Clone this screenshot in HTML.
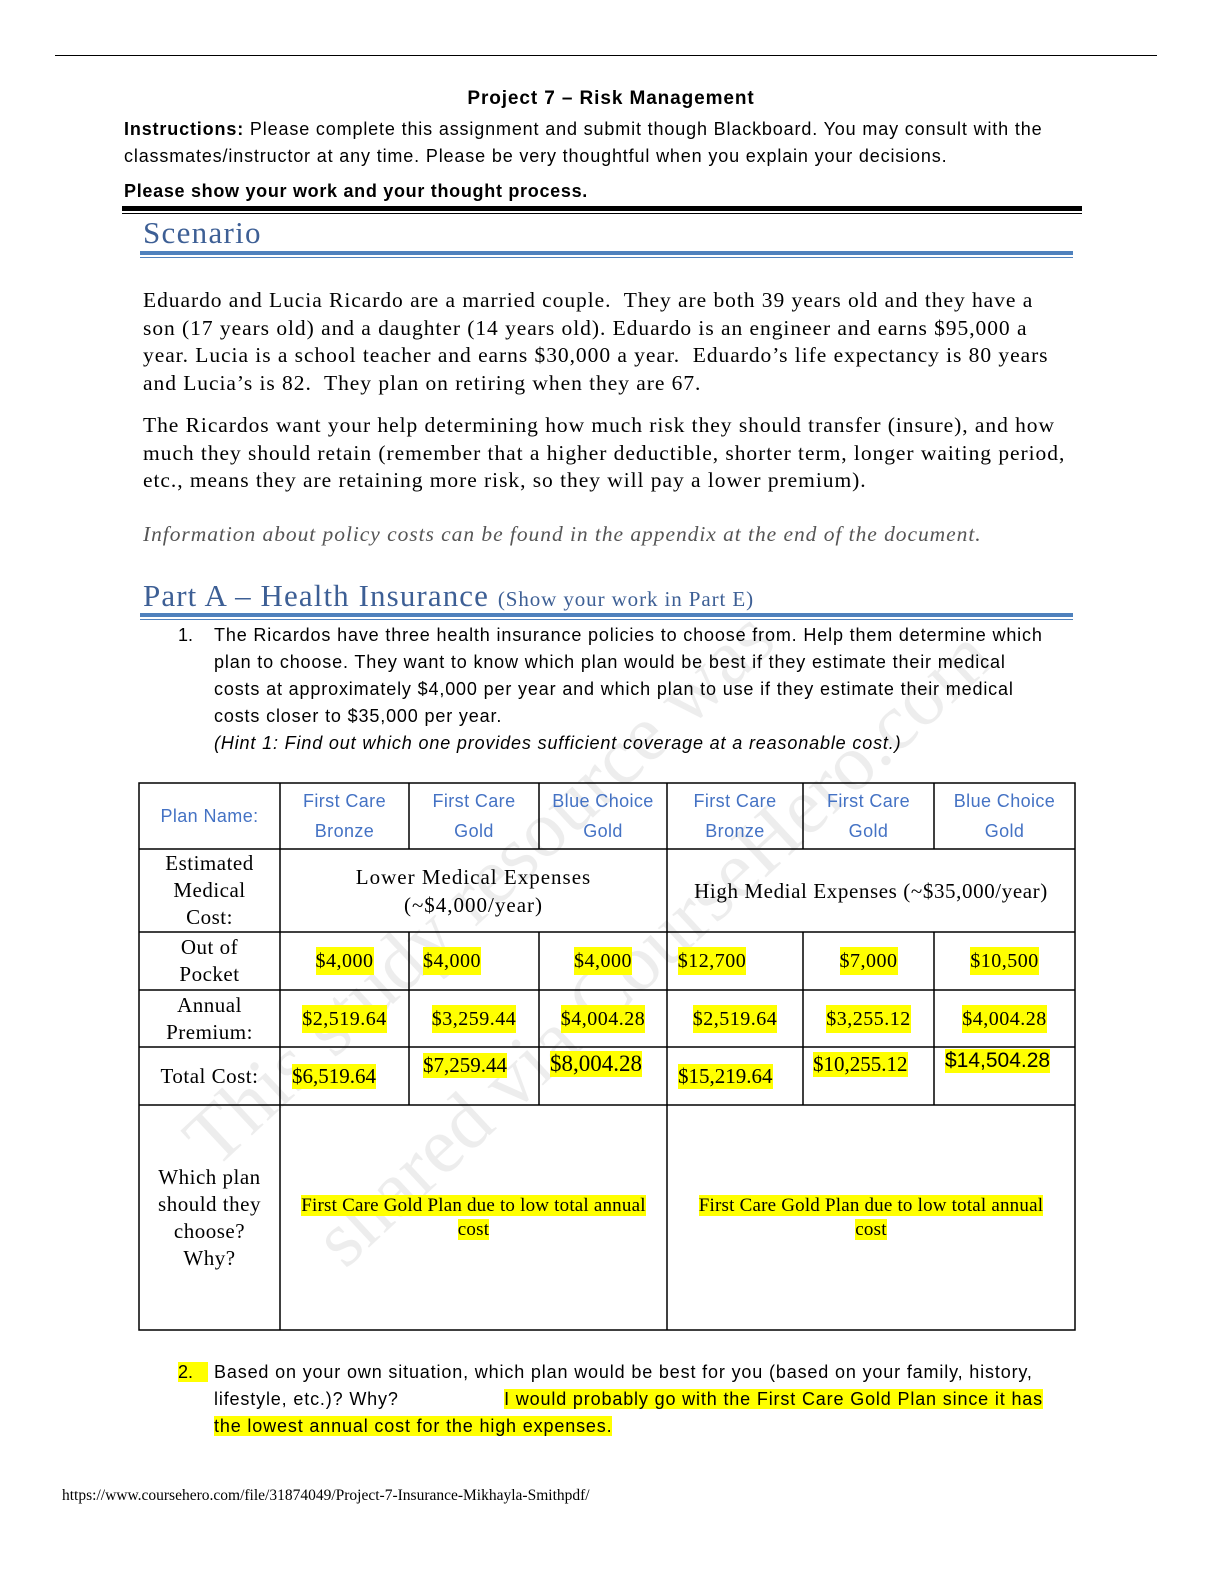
<!DOCTYPE html>
<html><head><meta charset="utf-8"><style>
html,body{margin:0;padding:0;width:1224px;height:1584px;overflow:hidden}
body{background:#fff;position:relative}
.a{position:absolute;white-space:nowrap}
.s{font-family:"Liberation Sans",sans-serif}
.r{font-family:"Liberation Serif",serif}
.hl{background:#ffff00}
.blue{color:#3d5f95}
.c{position:absolute;display:flex;align-items:center;justify-content:center;text-align:center;font-family:"Liberation Serif",serif;font-size:20px;line-height:28px;letter-spacing:0.5px}
.b{color:#4472c4;font-family:"Liberation Sans",sans-serif;font-size:18px;line-height:30px;letter-spacing:0.4px}
.sp{letter-spacing:0.85px}
.sr{letter-spacing:0.95px}
</style></head><body>
<div class="a" style="left:55px;top:55px;width:1102px;height:1px;background:#000"></div>
<div class="a s" style="left:0;width:1222px;text-align:center;top:88px;font-size:19px;font-weight:bold;letter-spacing:0.9px">Project 7 – Risk Management</div>
<div class="a s sp" style="left:124px;top:116px;font-size:18px;line-height:27px"><b>Instructions:</b> Please complete this assignment and submit though Blackboard. You may consult with the<br>classmates/instructor at any time. Please be very thoughtful when you explain your decisions.</div>
<div class="a s" style="left:124px;top:181px;font-size:18px;font-weight:bold;letter-spacing:0.7px">Please show your work and your thought process.</div>
<div class="a" style="left:122px;top:206px;width:960px;height:5px;background:#000"></div>
<div class="a" style="left:122px;top:213px;width:960px;height:1px;background:#000"></div>
<div class="a r blue" style="left:143px;top:215px;font-size:31px;letter-spacing:1.3px">Scenario</div>
<div class="a" style="left:140px;top:251px;width:933px;height:4px;background:#4f81bd"></div>
<div class="a" style="left:140px;top:257px;width:933px;height:1px;background:#4f81bd"></div>
<div class="a r sr" style="left:143px;top:287px;font-size:21.5px;line-height:27.5px">Eduardo and Lucia Ricardo are a married couple.&nbsp; They are both 39 years old and they have a<br>son (17 years old) and a daughter (14 years old). Eduardo is an engineer and earns $95,000 a<br>year. Lucia is a school teacher and earns $30,000 a year.&nbsp; Eduardo’s life expectancy is 80 years<br>and Lucia’s is 82.&nbsp; They plan on retiring when they are 67.</div>
<div class="a r sr" style="left:143px;top:412px;font-size:21.5px;line-height:27.5px">The Ricardos want your help determining how much risk they should transfer (insure), and how<br>much they should retain (remember that a higher deductible, shorter term, longer waiting period,<br>etc., means they are retaining more risk, so they will pay a lower premium).</div>
<div class="a r sr" style="left:143px;top:522px;font-size:21.5px;font-style:italic;color:#555">Information about policy costs can be found in the appendix at the end of the document.</div>
<div class="a r blue" style="left:143px;top:578px;font-size:31px;letter-spacing:1.1px">Part A – Health Insurance <span style="font-size:21px;letter-spacing:0.9px">(Show your work in Part E)</span></div>
<div class="a" style="left:140px;top:613px;width:933px;height:4px;background:#4f81bd"></div>
<div class="a" style="left:140px;top:619px;width:933px;height:1px;background:#4f81bd"></div>
<div class="a s" style="left:178px;top:622px;font-size:18px;line-height:27px">1.</div>
<div class="a s sp" style="left:214px;top:622px;font-size:18px;line-height:27px">The Ricardos have three health insurance policies to choose from. Help them determine which<br>plan to choose. They want to know which plan would be best if they estimate their medical<br>costs at approximately $4,000 per year and which plan to use if they estimate their medical<br>costs closer to $35,000 per year.<br><i>(Hint 1: Find out which one provides sufficient coverage at a reasonable cost.)</i></div>

<svg class="a" style="left:0;top:0;display:block" width="1224" height="1584">
<g stroke="#000" stroke-width="1.5" fill="none">
<rect x="139" y="783" width="936" height="547"/>
<line x1="139" y1="849" x2="1075" y2="849"/><line x1="139" y1="932" x2="1075" y2="932"/>
<line x1="139" y1="990" x2="1075" y2="990"/><line x1="139" y1="1047" x2="1075" y2="1047"/>
<line x1="139" y1="1105" x2="1075" y2="1105"/>
<line x1="280" y1="783" x2="280" y2="1330"/><line x1="667" y1="783" x2="667" y2="1330"/>
<line x1="409" y1="783" x2="409" y2="849"/><line x1="409" y1="932" x2="409" y2="1105"/>
<line x1="539" y1="783" x2="539" y2="849"/><line x1="539" y1="932" x2="539" y2="1105"/>
<line x1="803" y1="783" x2="803" y2="849"/><line x1="803" y1="932" x2="803" y2="1105"/>
<line x1="934" y1="783" x2="934" y2="849"/><line x1="934" y1="932" x2="934" y2="1105"/>
</g>
<g font-family="Liberation Serif, serif" font-size="80" fill="rgba(0,0,0,0.07)">
<text transform="translate(215,1170) rotate(-43)">This study resource was</text>
<text transform="translate(345,1270) rotate(-43)">shared via CourseHero.com</text>
</g>
</svg>
<div class="c b" style="left:139px;top:783px;width:141px;height:66px">Plan Name:</div>
<div class="c b" style="left:280px;top:783px;width:129px;height:66px">First Care<br>Bronze</div>
<div class="c b" style="left:409px;top:783px;width:130px;height:66px">First Care<br>Gold</div>
<div class="c b" style="left:539px;top:783px;width:128px;height:66px">Blue Choice<br>Gold</div>
<div class="c b" style="left:667px;top:783px;width:136px;height:66px">First Care<br>Bronze</div>
<div class="c b" style="left:803px;top:783px;width:131px;height:66px">First Care<br>Gold</div>
<div class="c b" style="left:934px;top:783px;width:141px;height:66px">Blue Choice<br>Gold</div>
<div class="c" style="left:139px;top:849px;width:141px;height:83px;font-size:21px;line-height:27px">Estimated<br>Medical<br>Cost:</div>
<div class="c" style="left:280px;top:849px;width:387px;height:83px;font-size:21px;letter-spacing:1px">Lower Medical Expenses<br>(~$4,000/year)</div>
<div class="c" style="left:667px;top:849px;width:408px;height:83px;font-size:21px;letter-spacing:0.6px">High Medial Expenses (~$35,000/year)</div>
<div class="c" style="left:139px;top:932px;width:141px;height:58px;font-size:21px;line-height:27px">Out of<br>Pocket</div>
<div class="c" style="left:139px;top:990px;width:141px;height:57px;font-size:21px;line-height:27px">Annual<br>Premium:</div>
<div class="c" style="left:139px;top:1047px;width:141px;height:58px;font-size:21px">Total Cost:</div>
<div class="c" style="left:280px;top:932px;width:129px;height:58px"><span class="hl">$4,000</span></div>
<div class="c" style="left:409px;top:932px;width:86px;height:58px"><span class="hl">$4,000</span></div>
<div class="c" style="left:539px;top:932px;width:128px;height:58px"><span class="hl">$4,000</span></div>
<div class="c" style="left:667px;top:932px;width:90px;height:58px"><span class="hl">$12,700</span></div>
<div class="c" style="left:803px;top:932px;width:131px;height:58px"><span class="hl">$7,000</span></div>
<div class="c" style="left:934px;top:932px;width:141px;height:58px"><span class="hl">$10,500</span></div>
<div class="c" style="left:280px;top:990px;width:129px;height:57px"><span class="hl">$2,519.64</span></div>
<div class="c" style="left:409px;top:990px;width:130px;height:57px"><span class="hl">$3,259.44</span></div>
<div class="c" style="left:539px;top:990px;width:128px;height:57px"><span class="hl">$4,004.28</span></div>
<div class="c" style="left:667px;top:990px;width:136px;height:57px"><span class="hl">$2,519.64</span></div>
<div class="c" style="left:803px;top:990px;width:131px;height:57px"><span class="hl">$3,255.12</span></div>
<div class="c" style="left:934px;top:990px;width:141px;height:57px"><span class="hl">$4,004.28</span></div>
<div class="a r hl" style="left:292px;top:1064px;font-size:21px">$6,519.64</div>
<div class="a r hl" style="left:423px;top:1053px;font-size:21px">$7,259.44</div>
<div class="a r hl" style="left:550px;top:1051px;font-size:23px">$8,004.28</div>
<div class="a r hl" style="left:678px;top:1064px;font-size:21px">$15,219.64</div>
<div class="a r hl" style="left:813px;top:1052px;font-size:21px">$10,255.12</div>
<div class="a s hl" style="left:945px;top:1049px;font-size:21px">$14,504.28</div>
<div class="c" style="left:139px;top:1105px;width:141px;height:225px;font-size:21px;line-height:27px">Which plan<br>should they<br>choose?<br>Why?</div>
<div class="a r" style="left:280px;top:1194px;width:387px;text-align:center;font-size:19px;line-height:24px;letter-spacing:0.2px"><span class="hl">First Care Gold Plan due to low total annual</span><br><span class="hl">cost</span></div>
<div class="a r" style="left:667px;top:1194px;width:408px;text-align:center;font-size:19px;line-height:24px;letter-spacing:0.2px"><span class="hl">First Care Gold Plan due to low total annual</span><br><span class="hl">cost</span></div>
<div class="a s" style="left:178px;top:1359px;font-size:18px;line-height:27px"><span class="hl">2.&nbsp;&nbsp;&nbsp;</span></div>
<div class="a s sp" style="left:214px;top:1359px;font-size:18px;line-height:27px">Based on your own situation, which plan would be best for you (based on your family, history,<br>lifestyle, etc.)? Why?&nbsp;&nbsp;&nbsp;&nbsp;&nbsp;&nbsp;&nbsp;&nbsp;&nbsp;&nbsp;&nbsp;&nbsp;&nbsp;&nbsp;&nbsp;&nbsp;&nbsp; <span class="hl">I would probably go with the First Care Gold Plan since it has</span><br><span class="hl">the lowest annual cost for the high expenses.</span></div>
<div class="a r" style="left:62px;top:1487px;font-size:15.5px">https://www.coursehero.com/file/31874049/Project-7-Insurance-Mikhayla-Smithpdf/</div>
</body></html>
